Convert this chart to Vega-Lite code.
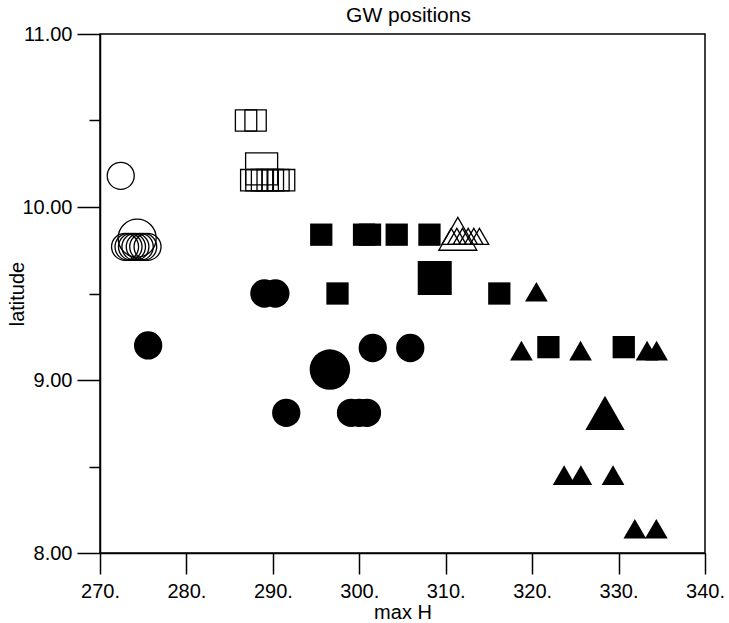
{
  "$schema": "https://vega.github.io/schema/vega-lite/v6.json",
  "width": 605,
  "height": 519,
  "autosize": "none",
  "padding": {"left": 100, "top": 34, "right": 24, "bottom": 70},
  "background": "white",
  "config": {
    "font": "Liberation Sans",
    "view": {"stroke": "black", "strokeWidth": 1.5},
    "axis": {
      "grid": false,
      "domainColor": "black",
      "domainWidth": 1.5,
      "tickColor": "black",
      "tickWidth": 1.5,
      "labelColor": "black",
      "labelFont": "Liberation Sans",
      "labelFontSize": 20,
      "titleColor": "black",
      "titleFont": "Liberation Sans",
      "titleFontSize": 20,
      "titleFontWeight": "normal",
      "labelFlush": false,
      "labelOverlap": false,
      "labelBound": false
    }
  },
  "title": {
    "text": "GW positions",
    "font": "Liberation Sans",
    "fontSize": 21,
    "fontWeight": "normal",
    "color": "black",
    "anchor": "middle",
    "offset": -2,
    "dx": 6
  },
  "data": {
    "values": [
      {"set": "open circle", "maxH": 272.4, "lat": 10.18, "big": false},
      {"set": "open circle", "maxH": 274.3, "lat": 9.82, "big": true},
      {"set": "open circle", "maxH": 272.9, "lat": 9.77, "big": false},
      {"set": "open circle", "maxH": 273.3, "lat": 9.77, "big": false},
      {"set": "open circle", "maxH": 273.7, "lat": 9.77, "big": false},
      {"set": "open circle", "maxH": 274.1, "lat": 9.77, "big": false},
      {"set": "open circle", "maxH": 274.6, "lat": 9.77, "big": false},
      {"set": "open circle", "maxH": 275.0, "lat": 9.77, "big": false},
      {"set": "open circle", "maxH": 275.5, "lat": 9.77, "big": false},
      {"set": "open square", "maxH": 286.9, "lat": 10.50, "big": false},
      {"set": "open square", "maxH": 288.0, "lat": 10.50, "big": false},
      {"set": "open square", "maxH": 288.7, "lat": 10.22, "big": true},
      {"set": "open square", "maxH": 287.5, "lat": 10.155, "big": false},
      {"set": "open square", "maxH": 288.1, "lat": 10.155, "big": false},
      {"set": "open square", "maxH": 288.75, "lat": 10.155, "big": false},
      {"set": "open square", "maxH": 289.4, "lat": 10.155, "big": false},
      {"set": "open square", "maxH": 290.0, "lat": 10.155, "big": false},
      {"set": "open square", "maxH": 290.65, "lat": 10.155, "big": false},
      {"set": "open square", "maxH": 291.3, "lat": 10.155, "big": false},
      {"set": "filled circle", "maxH": 275.57, "lat": 9.20, "big": false},
      {"set": "filled circle", "maxH": 289.02, "lat": 9.50, "big": false},
      {"set": "filled circle", "maxH": 290.29, "lat": 9.50, "big": false},
      {"set": "filled circle", "maxH": 291.55, "lat": 8.81, "big": false},
      {"set": "filled circle", "maxH": 296.6, "lat": 9.06, "big": true},
      {"set": "filled circle", "maxH": 299.04, "lat": 8.81, "big": false},
      {"set": "filled circle", "maxH": 300.0, "lat": 8.81, "big": false},
      {"set": "filled circle", "maxH": 300.89, "lat": 8.81, "big": false},
      {"set": "filled circle", "maxH": 301.56, "lat": 9.185, "big": false},
      {"set": "filled circle", "maxH": 305.9, "lat": 9.185, "big": false},
      {"set": "filled square", "maxH": 295.6, "lat": 9.84, "big": false},
      {"set": "filled square", "maxH": 300.55, "lat": 9.84, "big": false},
      {"set": "filled square", "maxH": 301.24, "lat": 9.84, "big": false},
      {"set": "filled square", "maxH": 304.33, "lat": 9.84, "big": false},
      {"set": "filled square", "maxH": 308.12, "lat": 9.84, "big": false},
      {"set": "filled square", "maxH": 308.73, "lat": 9.59, "big": true},
      {"set": "filled square", "maxH": 297.48, "lat": 9.50, "big": false},
      {"set": "filled square", "maxH": 316.2, "lat": 9.50, "big": false},
      {"set": "filled square", "maxH": 321.88, "lat": 9.19, "big": false},
      {"set": "filled square", "maxH": 330.6, "lat": 9.19, "big": false},
      {"set": "filled triangle", "maxH": 320.49, "lat": 9.51, "big": false},
      {"set": "filled triangle", "maxH": 318.76, "lat": 9.17, "big": false},
      {"set": "filled triangle", "maxH": 325.6, "lat": 9.17, "big": false},
      {"set": "filled triangle", "maxH": 333.3, "lat": 9.17, "big": false},
      {"set": "filled triangle", "maxH": 334.4, "lat": 9.17, "big": false},
      {"set": "filled triangle", "maxH": 328.43, "lat": 8.81, "big": true},
      {"set": "filled triangle", "maxH": 323.7, "lat": 8.45, "big": false},
      {"set": "filled triangle", "maxH": 325.64, "lat": 8.45, "big": false},
      {"set": "filled triangle", "maxH": 329.36, "lat": 8.45, "big": false},
      {"set": "filled triangle", "maxH": 331.88, "lat": 8.14, "big": false},
      {"set": "filled triangle", "maxH": 334.37, "lat": 8.14, "big": false},
      {"set": "open triangle", "maxH": 311.4, "lat": 9.845, "big": true},
      {"set": "open triangle", "maxH": 310.63, "lat": 9.83, "big": false},
      {"set": "open triangle", "maxH": 311.29, "lat": 9.83, "big": false},
      {"set": "open triangle", "maxH": 311.94, "lat": 9.83, "big": false},
      {"set": "open triangle", "maxH": 312.6, "lat": 9.83, "big": false},
      {"set": "open triangle", "maxH": 313.25, "lat": 9.83, "big": false},
      {"set": "open triangle", "maxH": 313.9, "lat": 9.83, "big": false}
    ]
  },
  "encoding": {
    "x": {
      "field": "maxH",
      "type": "quantitative",
      "scale": {"domain": [270, 340], "nice": false, "zero": false},
      "axis": {
        "title": "max H",
        "values": [270, 280, 290, 300, 310, 320, 330, 340],
        "labelExpr": "format(datum.value, 'd') + '.'",
        "tickSize": 21,
        "labelPadding": 7,
        "titlePadding": 1
      }
    },
    "y": {
      "field": "lat",
      "type": "quantitative",
      "scale": {"domain": [8, 11], "nice": false, "zero": false},
      "axis": {
        "title": "latitude",
        "values": [8, 8.5, 9, 9.5, 10, 10.5, 11],
        "labelExpr": "datum.value % 1 === 0 ? format(datum.value, '.2f') : ''",
        "tickSize": {"condition": {"test": "datum.value % 1 === 0", "value": 23}, "value": 11},
        "labelPadding": 5,
        "titleX": -77,
        "titleBaseline": "alphabetic",
        "titleAlign": "center"
      }
    }
  },
  "layer": [
    {
      "transform": [{"filter": "datum.set === 'open circle'"}],
      "mark": {"type": "point", "shape": "circle", "filled": false, "stroke": "black", "strokeWidth": 1.3, "opacity": 1},
      "encoding": {"size": {"condition": {"test": "datum.big", "value": 1450}, "value": 730}}
    },
    {
      "transform": [{"filter": "datum.set === 'open square'"}],
      "mark": {"type": "point", "shape": "square", "filled": false, "stroke": "black", "strokeWidth": 1.3, "opacity": 1},
      "encoding": {"size": {"condition": {"test": "datum.big", "value": 1024}, "value": 455}}
    },
    {
      "transform": [{"filter": "datum.set === 'filled circle'"}],
      "mark": {"type": "point", "shape": "circle", "filled": true, "fill": "black", "opacity": 1},
      "encoding": {"size": {"condition": {"test": "datum.big", "value": 1640}, "value": 800}}
    },
    {
      "transform": [{"filter": "datum.set === 'filled square'"}],
      "mark": {"type": "point", "shape": "square", "filled": true, "fill": "black", "opacity": 1},
      "encoding": {"size": {"condition": {"test": "datum.big", "value": 1156}, "value": 497}}
    },
    {
      "transform": [{"filter": "datum.set === 'filled triangle'"}],
      "mark": {"type": "point", "shape": "triangle-up", "filled": true, "fill": "black", "opacity": 1},
      "encoding": {"size": {"condition": {"test": "datum.big", "value": 1545}, "value": 515}}
    },
    {
      "transform": [{"filter": "datum.set === 'open triangle'"}],
      "mark": {"type": "point", "shape": "triangle-up", "filled": false, "stroke": "black", "strokeWidth": 1.3, "opacity": 1},
      "encoding": {"size": {"condition": {"test": "datum.big", "value": 1444}, "value": 345}}
    }
  ]
}
